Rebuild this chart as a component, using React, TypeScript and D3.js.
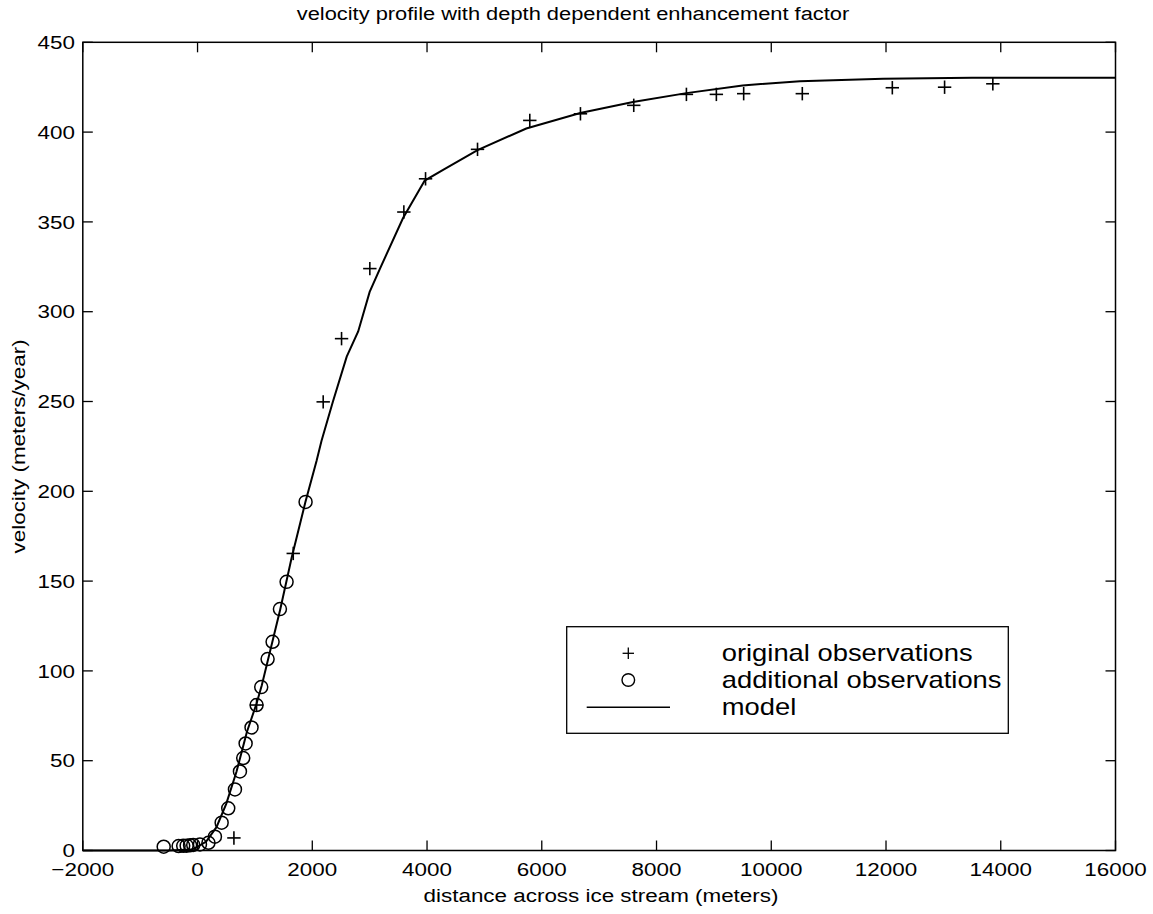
import React from "react";
import * as d3 from "d3";

// original observations (+)
const origX = [634, 1029, 1668, 2190, 2510, 3003, 3596, 3974, 4880, 5791, 6674, 7603, 8521, 9043, 9519, 10541, 12110, 13021, 13862];
const origY = [7, 81, 165.4, 249.8, 285, 324, 355.5, 374, 390.4, 406.5, 410.2, 414.9, 421, 421, 421.4, 421.4, 424.7, 425, 426.9];

// additional observations (o)
const addX = [-590, -330, -250, -190, -130, -75, 42, 190, 303, 420, 535, 652, 739, 796, 838, 941, 1029, 1110, 1221, 1308, 1436, 1552, 1883];
const addY = [2.1, 2.5, 2.6, 2.7, 2.9, 3.1, 3.4, 4.3, 7.7, 15.5, 23.5, 34, 44, 51.5, 59.6, 68.5, 81, 91, 106.6, 116.2, 134.4, 149.6, 194.1];

// model curve
const modelX = [-2000, -500, -100, 0, 150, 330, 500, 680, 860, 1030, 1120, 1440, 1640, 1880, 2075, 2160, 2360, 2600, 2800, 3000, 3180, 3580, 3960, 4280, 4880, 5730, 6670, 7590, 8520, 9500, 10500, 11950, 13500, 16000];
const modelY = [0, 0, 0.5, 2, 5, 13, 26, 44, 66, 82, 92, 134, 163, 194, 217, 228, 250, 275, 289, 311, 324, 352, 373, 379, 390, 402, 410.6, 416.7, 421.7, 426, 428.3, 429.7, 430.2, 430.2];

const xTicks = [-2000, 0, 2000, 4000, 6000, 8000, 10000, 12000, 14000, 16000];
const yTicks = [0, 50, 100, 150, 200, 250, 300, 350, 400, 450];

const title = "velocity profile with depth dependent enhancement factor";
const xLabel = "distance across ice stream (meters)";
const yLabel = "velocity (meters/year)";
const legendLabels = ["original observations", "additional observations", "model"];

const W = 1153, H = 914;
const L = 82.8, R = 1115.5, T = 42.3, B = 850.5;
const FONT = "'Liberation Sans', Arial, Helvetica, sans-serif";
const SX = 1.18;

export default function App() {
  const x = d3.scaleLinear().domain([-2000, 16000]).range([L, R]);
  const y = d3.scaleLinear().domain([0, 450]).range([B, T]);
  const line = d3.line<number>().x((_, i) => x(modelX[i])).y((_, i) => y(modelY[i])).curve(d3.curveLinear);
  const modelPath = line(modelX) || "";
  const tl = 10;
  const P = 6.7;
  const CR = 6.5;

  const stext = (tx: number, ty: number, s: string, size: number, anchor: string, key?: any, sx = SX) => (
    <text key={key} transform={`translate(${tx},${ty}) scale(${sx},1)`} fontSize={size} textAnchor={anchor} fontFamily={FONT} fill="#000">{s}</text>
  );

  const lgX0 = 566.7, lgY0 = 626.7, lgX1 = 1008.3, lgY1 = 733.3;
  const rows = [653.3, 680, 707.3];

  return (
    <svg width={W} height={H} style={{ position: "absolute", left: 0, top: 0, background: "#fff" }}>
      <rect x={0} y={0} width={W} height={H} fill="#fff" />
      {/* ticks */}
      <g stroke="#000" strokeWidth={1.3}>
        {xTicks.map((t) => (
          <g key={"xt" + t}>
            <line x1={x(t)} x2={x(t)} y1={B} y2={B - tl} />
            <line x1={x(t)} x2={x(t)} y1={T} y2={T + tl} />
          </g>
        ))}
        {yTicks.map((t) => (
          <g key={"yt" + t}>
            <line x1={L} x2={L + tl} y1={y(t)} y2={y(t)} />
            <line x1={R} x2={R - tl} y1={y(t)} y2={y(t)} />
          </g>
        ))}
      </g>
      {/* model line */}
      <path d={modelPath} fill="none" stroke="#000" strokeWidth={2} />
      {/* additional observations */}
      {addX.map((v, i) => (
        <circle key={"c" + i} cx={x(v)} cy={y(addY[i])} r={CR} fill="none" stroke="#000" strokeWidth={1.5} />
      ))}
      {/* original observations */}
      {origX.map((v, i) => (
        <g key={"p" + i} stroke="#000" strokeWidth={1.6}>
          <line x1={x(v) - P} x2={x(v) + P} y1={y(origY[i])} y2={y(origY[i])} />
          <line x1={x(v)} x2={x(v)} y1={y(origY[i]) - P} y2={y(origY[i]) + P} />
        </g>
      ))}
      {/* frame */}
      <rect x={L} y={T} width={R - L} height={B - T} fill="none" stroke="#000" strokeWidth={1.5} />
      {/* tick labels */}
      {xTicks.map((t) => stext(x(t), 876, t < 0 ? "\u2212" + Math.abs(t) : String(t), 19, "middle", "xl" + t))}
      {yTicks.map((t) => stext(75, y(t) + 6.7, String(t), 19, "end", "yl" + t))}
      {/* labels */}
      {stext(573, 20, title, 19, "middle", "title", 1.15)}
      {stext(601, 902, xLabel, 19, "middle")}
      <text transform={`translate(25,${(T + B) / 2}) rotate(-90) scale(${SX},1)`} fontSize={19} textAnchor="middle" fontFamily={FONT}>{yLabel}</text>
      {/* legend */}
      <rect x={lgX0} y={lgY0} width={lgX1 - lgX0} height={lgY1 - lgY0} fill="#fff" stroke="#000" strokeWidth={1.3} />
      <g stroke="#000" strokeWidth={1.3}>
        <line x1={628.3 - 5.7} x2={628.3 + 5.7} y1={rows[0]} y2={rows[0]} />
        <line x1={628.3} x2={628.3} y1={rows[0] - 5.7} y2={rows[0] + 5.7} />
      </g>
      <circle cx={628.3} cy={rows[1]} r={6.3} fill="none" stroke="#000" strokeWidth={1.4} />
      <line x1={586.7} x2={670} y1={rows[2]} y2={rows[2]} stroke="#000" strokeWidth={1.5} />
      {legendLabels.map((s, i) => stext(721.7, rows[i] + 8, s, 23, "start", "lg" + i, 1.19))}
    </svg>
  );
}
